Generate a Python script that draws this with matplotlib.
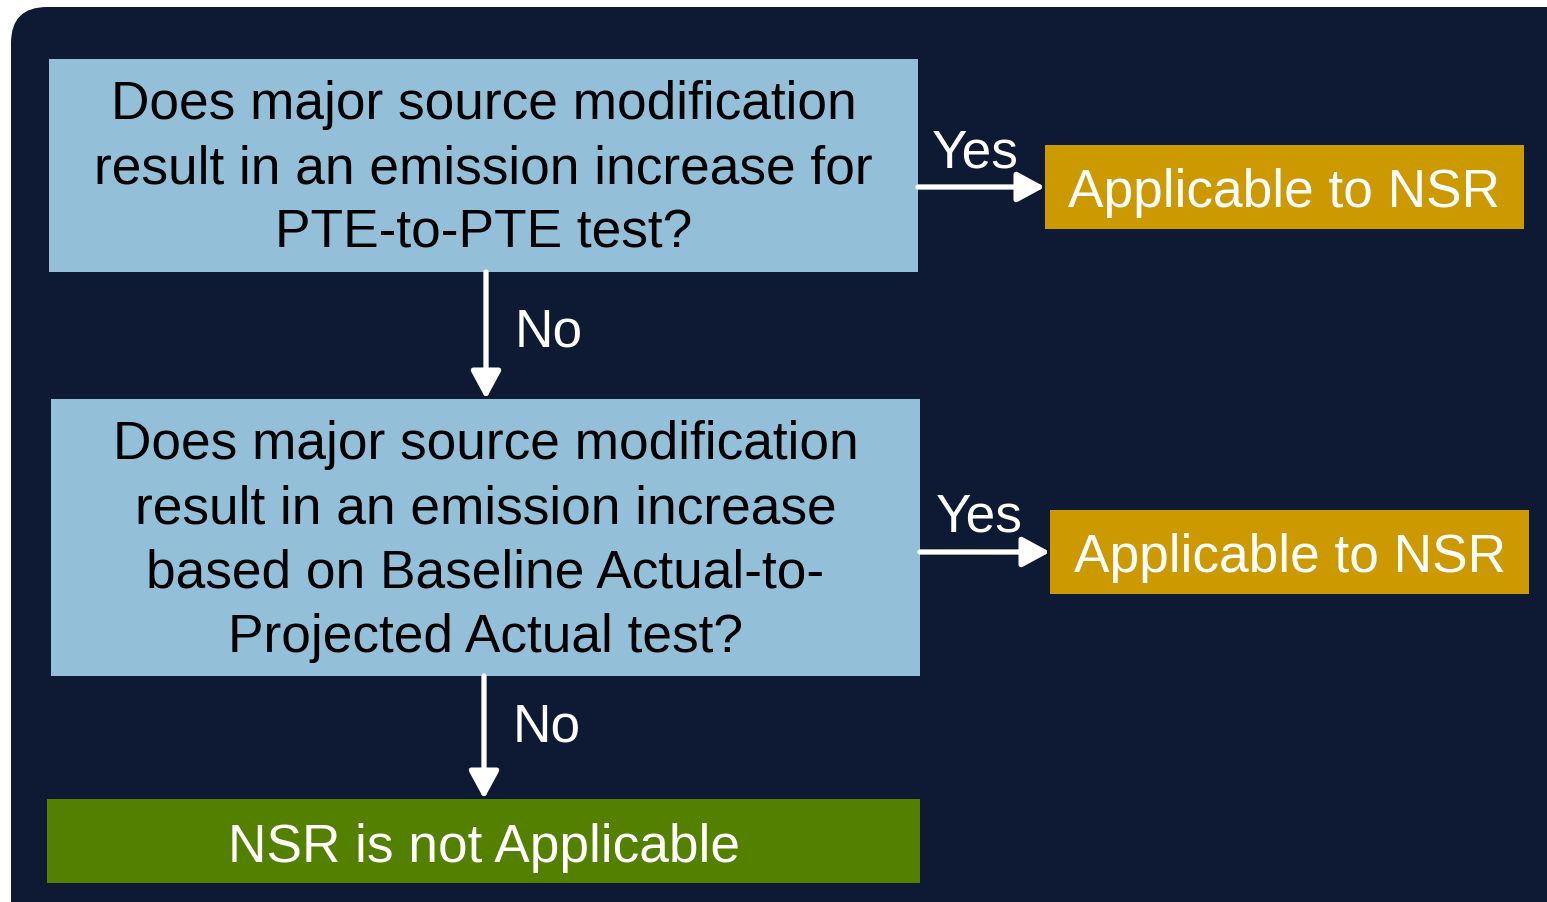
import matplotlib.pyplot as plt
from matplotlib.patches import FancyBboxPatch, Rectangle

plt.rcParams['font.family'] = ['Liberation Sans', 'DejaVu Sans']

# box texts
question_texts = [
    "Does major source modification\nresult in an emission increase for\nPTE-to-PTE test?",
    "Does major source modification\nresult in an emission increase\nbased on Baseline Actual-to-\nProjected Actual test?",
]
yes_texts = ["Applicable to NSR", "Applicable to NSR"]
final_text = "NSR is not Applicable"
arrow_labels = ["Yes", "No"]

# layout (pixels, x0, y0, x1, y1)
q_boxes = [(49, 59, 918, 272), (51, 399, 920, 676)]
yes_boxes = [(1045, 145, 1524, 229), (1050, 510, 1529, 594)]
final_box = (47, 799, 920, 883)

bg_col = "#0e1a33"
q_col = "#93bfd8"
yes_col = "#cc9900"
final_col = "#548000"
fs = 38.3

fig = plt.figure(figsize=(15.47, 9.02), dpi=100)
ax = fig.add_axes([0, 0, 1, 1])
ax.set_xlim(0, 1547)
ax.set_ylim(902, 0)
ax.axis("off")

bg = FancyBboxPatch((11, 7), 1700, 1000, boxstyle="round,pad=0,rounding_size=36",
                    facecolor=bg_col, edgecolor="none")
ax.add_patch(bg)


def box(b, col, txt, color, ls=1.0, dy=2):
    x0, y0, x1, y1 = b
    ax.add_patch(Rectangle((x0, y0), x1 - x0, y1 - y0, facecolor=col, edgecolor="none"))
    ax.text((x0 + x1) / 2, (y0 + y1) / 2 + dy, txt, ha="center", va="center",
            fontsize=fs, color=color, linespacing=ls)


def arrow(x0, y0, x1, y1):
    ax.annotate("", xy=(x1, y1), xytext=(x0, y0),
                arrowprops=dict(arrowstyle="-|>,head_length=1.2,head_width=0.65",
                                color="white", lw=3.8, shrinkA=0, shrinkB=0,
                                mutation_scale=14))


for b, t in zip(q_boxes, question_texts):
    box(b, q_col, t, "black", ls=1.36, dy=4)
for b, t in zip(yes_boxes, yes_texts):
    box(b, yes_col, t, "white", dy=6)
box(final_box, final_col, final_text, "white", dy=7)

# Yes arrows
for qb, yb in zip(q_boxes, yes_boxes):
    ym = (yb[1] + yb[3]) / 2
    arrow(qb[2], ym, yb[0], ym)
    ax.text((qb[2] + yb[0]) / 2 - 6, ym - 9, arrow_labels[0], ha="center",
            va="bottom", fontsize=fs, color="white")

# No arrows
nx = [486, 484]
no_dy = [-3, -10]
targets = [q_boxes[1][1], final_box[1]]
for x, qb, ty, d in zip(nx, q_boxes, targets, no_dy):
    arrow(x, qb[3], x, ty)
    ax.text(x + 29, (qb[3] + ty) / 2 + d, arrow_labels[1], ha="left", va="center",
            fontsize=fs, color="white")

fig.savefig("out.png", dpi=100, facecolor="white")
